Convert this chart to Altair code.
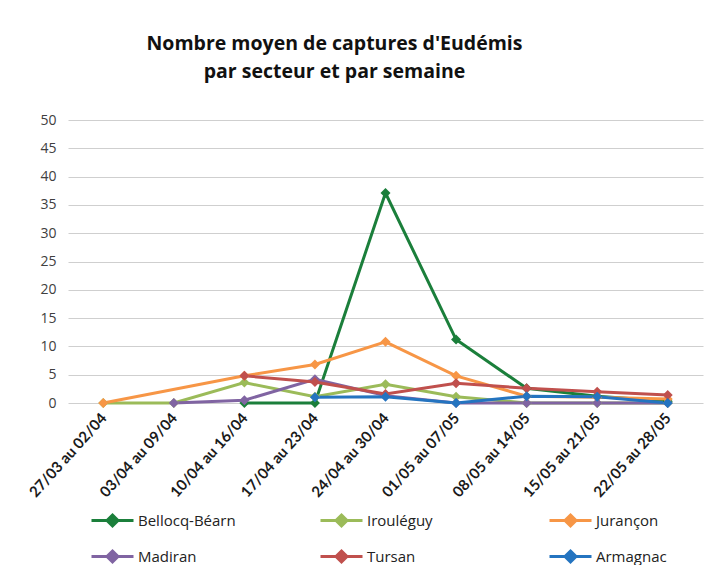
import altair as alt
import pandas as pd

weeks = ["27/03 au 02/04", "03/04 au 09/04", "10/04 au 16/04", "17/04 au 23/04",
         "24/04 au 30/04", "01/05 au 07/05", "08/05 au 14/05", "15/05 au 21/05",
         "22/05 au 28/05"]

series = ["Bellocq-Béarn", "Irouléguy", "Jurançon", "Madiran", "Tursan", "Armagnac"]
colors = ["#1b7f3b", "#9bbb59", "#f79646", "#8064a2", "#c0504d", "#2474c0"]

bellocq = [None, None, 0, 0, 37.1, 11.2, 2.6, 1.2, 0.3]
irouleguy = [0, 0, 3.6, 1.1, 3.3, 1.1, 0, 0, 0]
jurancon = [0, None, 4.8, 6.8, 10.8, 4.8, 1.2, 1.0, 0.7]
madiran = [None, 0, 0.5, 4.2, 1.3, 0, 0, 0, 0]
tursan = [None, None, 4.8, 3.7, 1.6, 3.5, 2.6, 2.0, 1.4]
armagnac = [None, None, None, 1.0, 1.1, 0, 1.2, 1.1, 0]

values = [bellocq, irouleguy, jurancon, madiran, tursan, armagnac]

rows = []
for si, (name, vals) in enumerate(zip(series, values)):
    for wi, (w, v) in enumerate(zip(weeks, vals)):
        if v is not None:
            rows.append({"Semaine": w, "Secteur": name, "Captures": v, "ordre": si})
df = pd.DataFrame(rows)

FONT = "Open Sans"

x = alt.X("Semaine:N", sort=weeks,
          scale=alt.Scale(type="point", padding=0.5),
          axis=alt.Axis(title=None, labelAngle=-48, labelFont="Lato", labelFontSize=15,
                        labelFontWeight="bold", labelColor="#1a1a1a", ticks=False,
                        domain=False, labelPadding=12, grid=False))
y = alt.Y("Captures:Q",
          scale=alt.Scale(domain=[0, 50], nice=False),
          axis=alt.Axis(title=None, values=list(range(0, 51, 5)), labelFont=FONT,
                        labelFontSize=14, labelColor="#404040", ticks=False, domain=False,
                        gridColor="#cfcfcf", gridWidth=1, labelPadding=12))

legend_symbol = "M-2.1,0H2.1M0,-0.55L0.55,0L0,0.55L-0.55,0Z"

color = alt.Color("Secteur:N", sort=series,
                  scale=alt.Scale(domain=series, range=colors),
                  legend=alt.Legend(title=None, orient="none", legendX=33, legendY=389,
                                    direction="horizontal", columns=3,
                                    symbolType=legend_symbol, symbolSize=400,
                                    symbolStrokeWidth=3, symbolFillColor=None,
                                    labelFont=FONT, labelFontSize=15, labelColor="#222222",
                                    labelOffset=14, columnPadding=78, rowPadding=13,
                                    gridAlign="all", labelLimit=300))

chart = alt.Chart(df).mark_line(
    strokeWidth=3,
    point=alt.OverlayMarkDef(shape="diamond", size=100, filled=True, opacity=1),
).encode(
    x=x, y=y, color=color, order=alt.Order("ordre:Q"),
    detail="Secteur:N",
).properties(
    width=635, height=283,
    autosize=alt.AutoSizeParams(type="none"),
    padding={"left": 60, "top": 112, "right": 10, "bottom": 163},
    title=alt.TitleParams(
        text=["Nombre moyen de captures d'Eudémis", "par secteur et par semaine"],
        font=FONT, fontSize=19.5, fontWeight="bold", color="#111111",
        anchor="middle", dx=-51, offset=31, lineHeight=28,
    ),
).configure_view(stroke=None)

chart.save("out.html", embed_options={"renderer": "svg", "actions": False})
